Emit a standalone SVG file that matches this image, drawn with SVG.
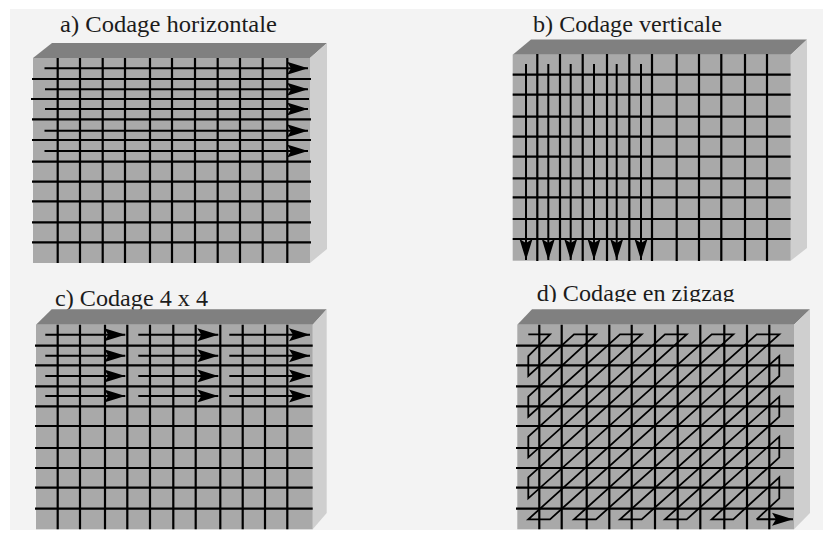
<svg xmlns="http://www.w3.org/2000/svg" width="823" height="538" viewBox="0 0 823 538">
<style>
.t{font-family:"Liberation Serif","Times New Roman",serif;font-size:23px;fill:#1c1c1c}
.front{fill:#a9a9a9}.top{fill:#808080}.side{fill:#cfcfcf}
.g{stroke:#000;stroke-width:2.200;fill:none}
.a{stroke:#000;stroke-width:2;fill:none;marker-end:url(#h)}
.z{stroke:#000;stroke-width:1.800;fill:none;stroke-linejoin:miter}
</style>
<defs>
<marker id="h" markerUnits="userSpaceOnUse" markerWidth="21" markerHeight="14" refX="21" refY="7" orient="auto" overflow="visible"><path d="M0 0.500L21 7L0 13.500L4 7Z" fill="#000"/></marker>
</defs>
<rect width="823" height="538" fill="#fff"/>
<rect x="10" y="9" width="813" height="521" fill="#f3f3f3"/>
<g id="panel-a">
<text class="t" x="60" y="32.300" textLength="217" lengthAdjust="spacingAndGlyphs">a) Codage horizontale</text>
<polygon class="top" points="33,58 52,43 327,43 310,58"/>
<polygon class="side" points="310,58 327,43 327,249 310,263"/>
<rect class="front" x="33" y="58" width="277" height="205"/>
<path class="g" d="M57.700 58V263M80 58V263M102.700 58V263M125 58V263M150 58V263M172 58V263M195 58V263M217.700 58V263M240 58V263M262.700 58V263M287.300 58V263"/>
<path class="g" d="M32 79H311M31 99H309M32 119.300H311M32 140H311M32 161.700H311M32 181.700H311M32 201.300H311M32 222.300H311M32 242.300H311"/>
</g>
<g id="panel-b">
<text class="t" x="533" y="31.700" textLength="189" lengthAdjust="spacingAndGlyphs">b) Codage verticale</text>
<polygon class="top" points="512.700,54.700 531,39.500 807,39.500 790.700,54.700"/>
<polygon class="side" points="790.700,54.700 807,39.500 807,248 790.700,260.700"/>
<rect class="front" x="512.700" y="54.700" width="278" height="206"/>
<path class="g" d="M537.300 54V261M560 54V261M582.700 54V261M607 54V261M629.300 54V261M652 54V261M676.700 54V261M699 54V261M721.300 54V261M745 54V261M767 54V261"/>
<path class="g" d="M512.700 74.700H790.700M512.700 94.700H790.700M512.700 116.700H790.700M512.700 136.700H790.700M512.700 156.700H790.700M512.700 178.300H790.700M512.700 197.300H790.700M512.700 219H790.700M512.700 239H790.700"/>
</g>
<g id="panel-c">
<text class="t" x="55" y="306" textLength="153" lengthAdjust="spacingAndGlyphs">c) Codage 4 x 4</text>
<polygon class="top" points="36,324.700 51.700,309.300 326.700,309.300 312.700,324.700"/>
<polygon class="side" points="312.700,324.700 326.700,309.300 326.700,513 312.700,529.300"/>
<rect class="front" x="36" y="324.700" width="276.700" height="204.600"/>
<path class="g" d="M57.700 324.700V529.300M80 324.700V529.300M105 324.700V529.300M127.300 324.700V529.300M150 324.700V529.300M173.300 324.700V529.300M195.700 324.700V529.300M220.300 324.700V529.300M242.700 324.700V529.300M265 324.700V529.300M287.300 324.700V529.300"/>
<path class="g" d="M35 345.700H312.700M35 365.300H312.700M35 386.300H312.700M35 406.300H312.700M35 426H312.700M35 448H312.700M35 468H312.700M35 487.700H312.700M35 508.700H312.700"/>
</g>
<g id="panel-d">
<text class="t" x="536.700" y="300.700" textLength="198" lengthAdjust="spacingAndGlyphs">d) Codage en zigzag</text>
<rect x="530" y="302" width="210" height="8" fill="#f3f3f3"/>
<polygon class="top" points="517.300,324.700 532,309.300 810,309.300 794,324.700"/>
<polygon class="side" points="794,324.700 810,309.300 810,513 794,529.300"/>
<rect class="front" x="517.300" y="324.700" width="276.700" height="204.600"/>
<path class="g" d="M539.300 324.700V529.300M561.700 324.700V529.300M586.700 324.700V529.300M609.300 324.700V529.300M631.700 324.700V529.300M655 324.700V529.300M677.700 324.700V529.300M700.300 324.700V529.300M724.300 324.700V529.300M747 324.700V529.300M769.300 324.700V529.300"/>
<path class="g" d="M516 345.700H794M516 365.300H794M516 386.300H794M516 406.300H794M516 426H794M516 448H794M516 468H794M516 487.700H794M516 508.700H794"/>
</g>
<g id="connectors">
<path class="a" d="M44.500 68.300H308"/><path class="a" d="M45 89.300H308"/><path class="a" d="M45 109H308"/><path class="a" d="M44.500 130.700H308"/><path class="a" d="M44.500 151H308"/>
<path class="a" d="M526 64V260"/><path class="a" d="M548.300 64V260"/><path class="a" d="M570.700 64V260"/><path class="a" d="M594 64V260"/><path class="a" d="M616.700 64V260"/><path class="a" d="M641 64V260"/>
<path class="a" d="M45.300 334.700H125.300"/><path class="a" d="M138.300 334.700H218.300"/><path class="a" d="M229.300 334.700H310"/>
<path class="a" d="M45.300 355.700H125.300"/><path class="a" d="M138.300 355.700H218.300"/><path class="a" d="M229.300 355.700H310"/>
<path class="a" d="M45.300 376H125.300"/><path class="a" d="M138.300 376H218.300"/><path class="a" d="M229.300 376H310"/>
<path class="a" d="M45.300 396H125.300"/><path class="a" d="M138.300 396H218.300"/><path class="a" d="M229.300 396H310"/>
<path class="z" d="M528.300 334.300L550 334.300L528.300 356L528.300 376L574 334.300L596 334.300L528.300 396.700L528.300 416.700L620 334.300L641.700 334.300L528.300 436.700L528.300 457.300L665 334.300L686.700 334.300L528.300 477.300L528.300 498.300L711.700 334.300L733.300 334.300L528.300 519.300L550 519.300L756.700 334.300L779.300 334.300L574 519.300L596 519.300L779.300 356L779.300 376L620 519.300L641.700 519.300L779.300 396.700L779.300 416.700L665 519.300L686.700 519.300L779.300 436.700L779.300 457.300L711.700 519.300L733.300 519.300L779.300 477.300L779.300 498.300L756.700 519.300"/>
<path class="a" d="M756.700 519.300H793"/>
</g>
</svg>
